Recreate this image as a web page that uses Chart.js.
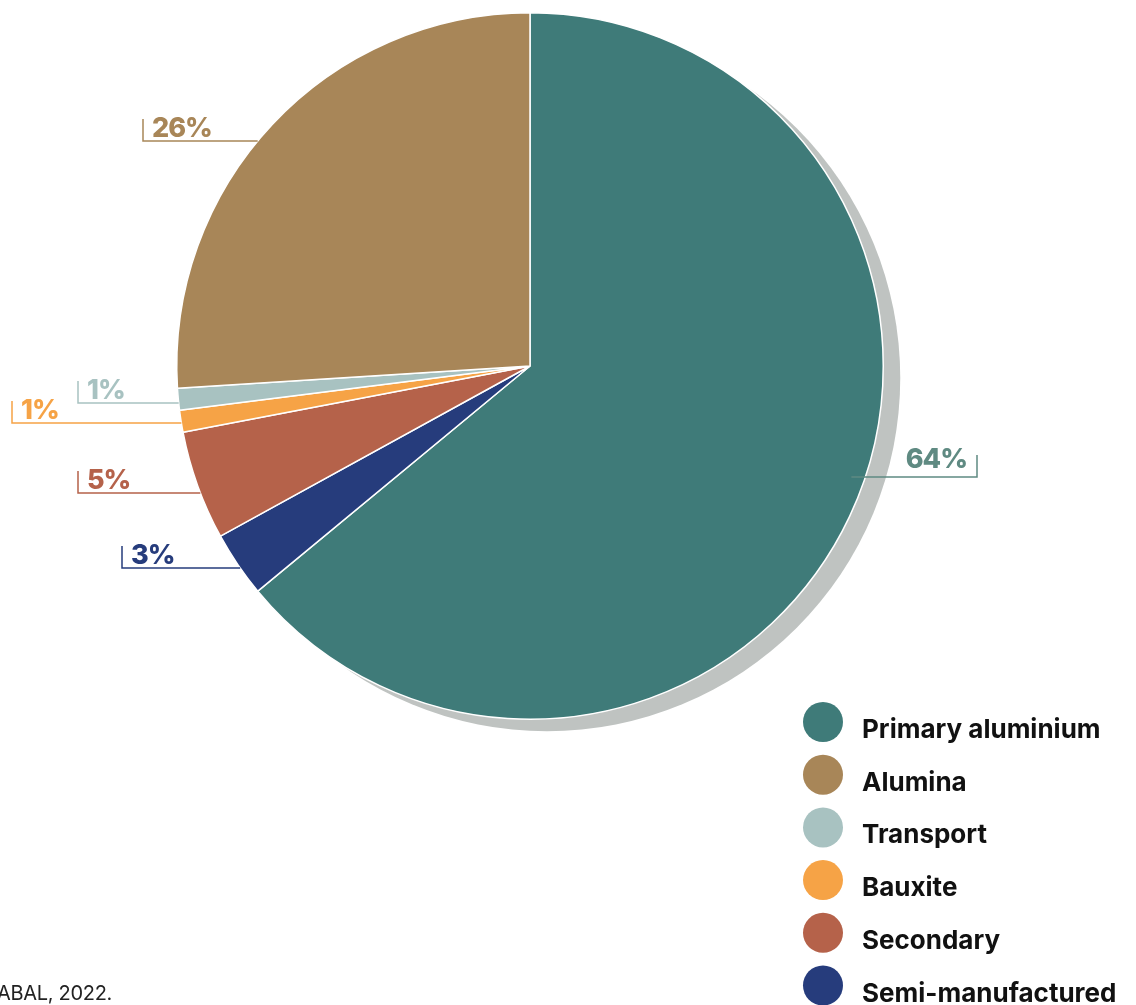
<!DOCTYPE html>
<html>
<head>
<meta charset="utf-8">
<script src="https://cdn.jsdelivr.net/npm/chart.js"></script>
<style>
  html, body { margin: 0; padding: 0; background: #fff; overflow: hidden; }
  #wrap { width: 1136px; height: 1005px; position: relative; }
</style>
</head>
<body>
<div id="wrap"><canvas id="myChart"></canvas></div>
<script>
// slices, clockwise from 12 o'clock
const categories = ['Primary aluminium', 'Semi-manufactured', 'Secondary', 'Bauxite', 'Transport', 'Alumina'];
const shares = [64, 3, 5, 1, 1, 26];
const colors = ['#3f7b79', '#263c7c', '#b5624a', '#f6a346', '#a8c2c1', '#a88658'];
const labelColors = ['#5f8a82', '#263c7c', '#b5624a', '#f6a346', '#a8c2c1', '#a88658'];
// legend reads counter-clockwise after the first slice
const legendOrder = ['Primary aluminium', 'Alumina', 'Transport', 'Bauxite', 'Secondary', 'Semi-manufactured'];
const sourceNote = 'ABAL, 2022.';

// where each callout sits: line y and the end tick x (px), side of the pie
const callouts = [
  { tickX: 977, lineY: 477, side: 'right' },
  { tickX: 122, lineY: 568, side: 'left' },
  { tickX: 78, lineY: 493, side: 'left' },
  { tickX: 12, lineY: 423, side: 'left' },
  { tickX: 78, lineY: 403, side: 'left' },
  { tickX: 143, lineY: 141, side: 'left' }
];

const FONT = 'Inter, "Noto Sans", sans-serif';

const shadowPlugin = {
  id: 'shadow',
  beforeDatasetsDraw(chart) {
    const arc = chart.getDatasetMeta(0).data[0];
    if (!arc) return;
    const ctx = chart.ctx;
    ctx.save();
    ctx.fillStyle = '#bfc3c1';
    ctx.beginPath();
    ctx.arc(arc.x + 17, arc.y + 12, arc.outerRadius, 0, Math.PI * 2);
    ctx.fill();
    ctx.restore();
  }
};

const calloutPlugin = {
  id: 'callouts',
  afterDatasetsDraw(chart) {
    const ctx = chart.ctx;
    const meta = chart.getDatasetMeta(0);
    const arc = meta.data[0];
    const cx = arc.x, cy = arc.y, r = arc.outerRadius;
    ctx.save();
    ctx.lineWidth = 1.5;
    ctx.font = '800 27px ' + FONT;
    ctx.letterSpacing = '-1px';
    ctx.textBaseline = 'alphabetic';
    shares.forEach((v, i) => {
      const c = callouts[i];
      const dy = c.lineY - cy;
      const half = Math.sqrt(Math.max(r * r - dy * dy, 0));
      const edgeX = c.side === 'right' ? cx + half - 14 : cx - half;
      ctx.strokeStyle = labelColors[i];
      ctx.fillStyle = labelColors[i];
      ctx.beginPath();
      ctx.moveTo(edgeX, c.lineY);
      ctx.lineTo(c.tickX, c.lineY);
      ctx.lineTo(c.tickX, c.lineY - 22);
      ctx.stroke();
      const txt = v + '%';
      if (c.side === 'right') {
        ctx.textAlign = 'right';
        ctx.fillText(txt, c.tickX - 10, c.lineY - 9);
      } else {
        ctx.textAlign = 'left';
        ctx.fillText(txt, c.tickX + 9, c.lineY - 4);
      }
    });
    ctx.restore();
  }
};

const legendPlugin = {
  id: 'customLegend',
  afterDraw(chart) {
    const ctx = chart.ctx;
    ctx.save();
    ctx.font = '700 26px ' + FONT;
    ctx.textAlign = 'left';
    ctx.textBaseline = 'alphabetic';
    legendOrder.forEach((name, k) => {
      const i = categories.indexOf(name);
      const y = 722 + k * 52.7;
      ctx.fillStyle = colors[i];
      ctx.beginPath();
      ctx.arc(823, y, 20, 0, Math.PI * 2);
      ctx.fill();
      ctx.fillStyle = '#111';
      ctx.fillText(name, 862, y + 16);
    });
    ctx.font = '400 20px ' + FONT;
    ctx.letterSpacing = '-0.3px';
    ctx.fillStyle = '#222';
    ctx.fillText(sourceNote, -3, 1000);
    ctx.restore();
  }
};

new Chart(document.getElementById('myChart'), {
  type: 'pie',
  data: {
    labels: categories,
    datasets: [{
      data: shares,
      backgroundColor: colors,
      borderColor: '#ffffff',
      borderWidth: 1.5
    }]
  },
  options: {
    responsive: true,
    maintainAspectRatio: false,
    animation: false,
    layout: { padding: { left: 176, right: 252, top: 12, bottom: 285 } },
    plugins: {
      legend: { display: false },
      tooltip: { enabled: false }
    }
  },
  plugins: [shadowPlugin, calloutPlugin, legendPlugin]
});
</script>
</body>
</html>
